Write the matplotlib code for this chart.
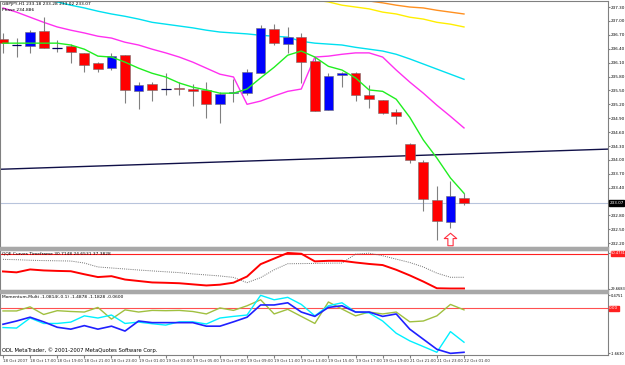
import matplotlib
matplotlib.use('Agg')
import matplotlib.pyplot as plt
from matplotlib.path import Path
from matplotlib.patches import Rectangle
import numpy as np

# GBPJPY H1 candles, 18 Oct 15:00 -> 22 Oct 01:00
opens = [236.61, 236.48, 236.46, 236.78, 236.41, 236.46, 236.31, 236.09, 235.98, 236.26,
         235.48, 235.64, 235.53, 235.55, 235.53, 235.51, 235.20, 235.44, 235.44, 235.87,
         236.82, 236.50, 236.65, 236.13, 235.07, 235.83, 235.87, 235.40, 235.29, 235.03,
         234.34, 233.95, 233.13, 232.65, 233.18]
highs = [236.74, 236.63, 236.80, 237.08, 236.59, 236.50, 236.31, 236.11, 236.31, 236.26,
         235.68, 235.68, 235.87, 235.68, 235.64, 235.68, 235.46, 235.74, 235.96, 236.91,
         236.93, 236.87, 236.74, 236.22, 235.87, 235.89, 235.89, 235.61, 235.29, 235.10,
         234.36, 233.99, 233.43, 233.54, 233.28]
lows = [236.31, 236.22, 236.31, 236.41, 236.33, 236.09, 235.89, 235.89, 235.94, 235.23,
        235.10, 235.27, 235.40, 235.40, 235.16, 234.90, 234.79, 235.25, 235.40, 235.87,
        236.48, 236.31, 235.66, 235.05, 235.07, 235.57, 235.27, 235.12, 234.99, 234.77,
        233.93, 232.89, 232.27, 232.53, 233.02]
closes = [236.52, 236.48, 236.76, 236.41, 236.41, 236.33, 236.05, 235.96, 236.24, 235.51,
          235.61, 235.51, 235.53, 235.53, 235.48, 235.20, 235.42, 235.46, 235.89, 236.85,
          236.52, 236.65, 236.11, 235.05, 235.81, 235.87, 235.40, 235.31, 235.01, 234.94,
          233.99, 233.15, 232.68, 233.22, 233.07]

# moving averages on the price chart
ma_green = [236.52, 236.52, 236.52, 236.52, 236.52, 236.48, 236.39, 236.24, 236.22, 236.11,
            235.98, 235.87, 235.79, 235.66, 235.57, 235.51, 235.44, 235.44, 235.53, 235.77,
            236.00, 236.26, 236.35, 236.22, 236.02, 235.94, 235.77, 235.51, 235.48, 235.31,
            234.92, 234.43, 234.04, 233.61, 233.28]
ma_magenta = [237.28, 237.19, 237.08, 236.97, 236.87, 236.80, 236.74, 236.67, 236.63, 236.54,
              236.48, 236.39, 236.31, 236.22, 236.11, 235.98, 235.85, 235.79, 235.20, 235.27,
              235.38, 235.48, 235.53, 236.22, 236.24, 236.28, 236.31, 236.31, 236.22, 235.94,
              235.68, 235.44, 235.18, 234.94, 234.69]
ma_cyan = [237.64, 237.59, 237.54, 237.47, 237.41, 237.34, 237.28, 237.21, 237.15, 237.10,
           237.04, 236.97, 236.93, 236.89, 236.85, 236.80, 236.76, 236.74, 236.72, 236.69,
           236.67, 236.65, 236.56, 236.52, 236.50, 236.48, 236.43, 236.39, 236.35, 236.28,
           236.18, 236.07, 235.96, 235.85, 235.74]
ma_yellow = [np.nan] * 21 + [237.56, 237.51, 237.45, 237.41, 237.34, 237.30, 237.26, 237.19,
                             237.15, 237.08, 237.04, 236.97, 236.93, 236.87]
ma_orange = [np.nan] * 25 + [237.51, 237.47, 237.43, 237.39, 237.34, 237.30, 237.28, 237.23,
                             237.19, 237.15]

trend_a = (0, 233.80)
trend_b = (34, 234.13)
arrow_idx = 33
arrow_price = 232.29

price_ticks = [237.30, 237.00, 236.70, 236.40, 236.10, 235.80, 235.50, 235.20, 234.90, 234.60,
               234.30, 234.00, 233.70, 233.40, 232.80, 232.50, 232.20]

# QQE window
qqe_red = [39.65, 39.12, 40.83, 40.24, 39.97, 39.78, 38.01, 36.37, 36.89, 34.92,
           34.07, 33.22, 33.02, 32.76, 32.10, 31.45, 31.91, 33.09, 36.69, 43.91,
           47.19, 50.47, 50.01, 45.55, 45.88, 45.88, 44.89, 44.04, 43.39, 40.63,
           37.35, 33.74, 29.81, 29.67, 29.67]
qqe_dots = [46.73, 46.53, 46.21, 46.01, 45.88, 45.75, 44.57, 42.27, 41.68, 41.09,
            40.50, 39.97, 39.45, 38.99, 38.20, 37.61, 37.02, 36.17, 33.09, 36.04,
            40.63, 44.17, 44.24, 44.37, 44.50, 44.57, 49.81, 50.34, 48.83, 46.86,
            44.89, 42.27, 38.66, 36.24, 36.24]
qqe_level = 50
qqe_ticks = [29.6683, 50.4731]

# Momentum-Multi window
mom_green = [-0.10, -0.10, 0.05, -0.23, -0.09, -0.12, -0.14, 0.03, -0.40, -0.06,
             -0.14, -0.08, -0.09, -0.08, -0.12, -0.21, 0.01, -0.08, 0.09, 0.31,
             -0.21, -0.04, -0.30, -0.56, 0.23, -0.03, -0.28, -0.14, -0.21, -0.14,
             -0.50, -0.47, -0.28, 0.14, -0.06]
mom_blue = [-0.59, -0.47, -0.33, -0.50, -0.70, -0.77, -0.64, -0.77, -0.66, -0.84,
            -0.47, -0.53, -0.53, -0.53, -0.53, -0.66, -0.66, -0.50, -0.33, 0.12,
            0.12, 0.20, -0.14, -0.30, 0.03, 0.09, -0.14, -0.14, -0.30, -0.21,
            -0.77, -1.14, -1.51, -1.66, -1.62]
mom_cyan = [-0.71, -0.73, -0.36, -0.56, -0.56, -0.51, -0.28, -0.36, -0.25, -0.56,
            -0.51, -0.57, -0.62, -0.50, -0.50, -0.58, -0.36, -0.30, -0.25, 0.475,
            0.31, 0.40, 0.14, -0.28, 0.09, 0.20, -0.14, -0.17, -0.47, -0.92,
            -1.20, -1.41, -1.62, -0.86, -1.25]
mom_ticks = [-1.6630, 0.4751]

time_labels = ['18 Oct 2007', '18 Oct 17:00', '18 Oct 19:00', '18 Oct 21:00', '18 Oct 23:00',
               '19 Oct 01:00', '19 Oct 03:00', '19 Oct 05:00', '19 Oct 07:00', '19 Oct 09:00',
               '19 Oct 11:00', '19 Oct 13:00', '19 Oct 15:00', '19 Oct 17:00', '19 Oct 19:00',
               '21 Oct 21:00', '21 Oct 23:00', '22 Oct 01:00']

W, H = 625, 365
FS = 3.2
YFS = 3.0
GRAY = '#808080'


def box(x0, y0, x1, y1):
    # pixel rectangle -> figure fraction
    return [x0 / W, 1 - y1 / H, (x1 - x0) / W, (y1 - y0) / H]


fig = plt.figure(figsize=(W / 100, H / 100), dpi=100)
fig.patch.set_facecolor('white')
RIGHT = 608
ax1 = fig.add_axes(box(0, 1, RIGHT, 247))
ax2 = fig.add_axes(box(0, 250, RIGHT, 290), sharex=ax1)
ax3 = fig.add_axes(box(0, 293, RIGHT, 355), sharex=ax1)

idx = np.arange(len(opens))
o = np.array(opens)
c = np.array(closes)

# --- price chart ---
ax1.vlines(idx, lows, highs, color=GRAY, lw=0.8, zorder=2)
body_col = ['#0000ff' if cc > oo else '#ff0000' for oo, cc in zip(o, c)]
ax1.bar(idx, np.abs(c - o), bottom=np.minimum(o, c), width=0.72,
        color=body_col, edgecolor='#707070', lw=0.4, zorder=3)
doji = np.abs(c - o) < 0.005
ax1.hlines(o[doji], idx[doji] - 0.36, idx[doji] + 0.36, color='#000060', lw=0.9, zorder=4)

ax1.plot(idx, ma_cyan, color='#00e0f0', lw=1, zorder=1)
ax1.plot(idx, ma_yellow, color='#ffee00', lw=1, zorder=1)
ax1.plot(idx, ma_orange, color='#ff9020', lw=1, zorder=1)
ax1.plot(idx, ma_magenta, color='#ff30f0', lw=1, zorder=1)
ax1.plot(idx, ma_green, color='#20ee20', lw=1, zorder=5)
ax1.axline(trend_a, trend_b, color='#101048', lw=1, zorder=1)
ax1.axhline(closes[-1], color='#b8c4dc', lw=0.8, zorder=0)

arrow = Path([(0, 1), (1, 0.15), (0.42, 0.15), (0.42, -1), (-0.42, -1), (-0.42, 0.15),
              (-1, 0.15), (0, 1)], closed=True)
ax1.plot(arrow_idx, arrow_price, marker=arrow, ms=9, mfc='white', mec='#ff3040',
         mew=0.8, ls='none', zorder=6)

ax1.set_ylim(232.12, 237.43)
ax1.set_xlim(-0.22, 44.62)
ax1.yaxis.tick_right()
ax1.set_yticks(price_ticks)
ax1.set_yticklabels(['%.2f' % p for p in price_ticks])
ax1.text(1.002, closes[-1], '%.2f' % closes[-1], transform=ax1.get_yaxis_transform(),
         fontsize=YFS, color='white', va='center', ha='left',
         bbox=dict(facecolor='black', edgecolor='black', pad=0.4))
ax1.text(0.004, 0.995, 'GBPJPY,H1 233.18 233.28 233.02 233.07', transform=ax1.transAxes,
         fontsize=FS, va='top')
ax1.text(0.004, 0.972, 'Phase 234.886', transform=ax1.transAxes, fontsize=FS, va='top')

# --- QQE window ---
ax2.axhline(qqe_level, color='#ff2020', lw=0.8)
ax2.plot(idx, qqe_dots, color='#707070', lw=0.7, ls=(0, (1, 1.2)))
ax2.plot(idx, qqe_red, color='#ff0000', lw=1.4)
ax2.set_ylim(28.8, 52.2)
ax2.yaxis.tick_right()
ax2.set_yticks(qqe_ticks)
ax2.set_yticklabels(['%.4f' % v for v in qqe_ticks])
# level marker sits on the max label, as in the terminal
top_lab = ax2.get_yticklabels()[1]
top_lab.set_bbox(dict(facecolor='#ff2020', edgecolor='#ff2020', pad=0.2))
top_lab.set_color('white')
ax2.text(0.004, 0.96, 'QQE Curves Timeframe 30.7148 24.6531 37.3828',
         transform=ax2.transAxes, fontsize=FS, va='top')

# --- Momentum window ---
ax3.axhline(0, color='#ff5050', lw=0.8)
ax3.plot(idx, mom_green, color='#a0c040', lw=1)
ax3.plot(idx, mom_cyan, color='#00f0ff', lw=1)
ax3.plot(idx, mom_blue, color='#2020ff', lw=1.2)
ax3.set_ylim(-1.72, 0.56)
ax3.yaxis.tick_right()
ax3.set_yticks(mom_ticks)
ax3.set_yticklabels(['%.4f' % v for v in mom_ticks])
ax3.text(1.002, 0, '0.00', transform=ax3.get_yaxis_transform(), fontsize=YFS,
         color='white', va='center', ha='left',
         bbox=dict(facecolor='#ff2020', edgecolor='#ff2020', pad=0.3))
ax3.text(0.004, 0.97, 'Momentum-Multi -1.0814(-0.1) -1.4878 -1.1828 -0.0600',
         transform=ax3.transAxes, fontsize=FS, va='top')
ax3.text(0.004, 0.03, 'ODL MetaTrader, \u00a9 2001-2007 MetaQuotes Software Corp.',
         transform=ax3.transAxes, fontsize=3.8, va='bottom')

ax3.set_xticks(idx[::2])
ax3.set_xticklabels(time_labels)
for t in ax3.get_xticklabels():
    t.set_ha('left')

for ax in (ax1, ax2, ax3):
    ax.set_facecolor('white')
    for s in ax.spines.values():
        s.set_color(GRAY)
        s.set_linewidth(0.8)
    ax.tick_params(axis='y', labelsize=YFS, length=1.5, pad=0.8, color=GRAY)
    ax.tick_params(axis='x', labelsize=2.9, length=2, pad=1, color=GRAY, labelcolor='#303030')
for ax in (ax2, ax3):
    ax.tick_params(axis='y', labelsize=2.6, pad=0.5)
ax1.tick_params(axis='x', bottom=False, labelbottom=False)
ax2.tick_params(axis='x', bottom=False, labelbottom=False)

# grey separators between the windows
for y0, y1 in [(247, 250), (290, 293)]:
    fig.patches.append(Rectangle((0, 1 - y1 / H), RIGHT / W, (y1 - y0) / H,
                                 transform=fig.transFigure, color='#a8a8a8', zorder=10))

fig.savefig('out.png', dpi=100)
